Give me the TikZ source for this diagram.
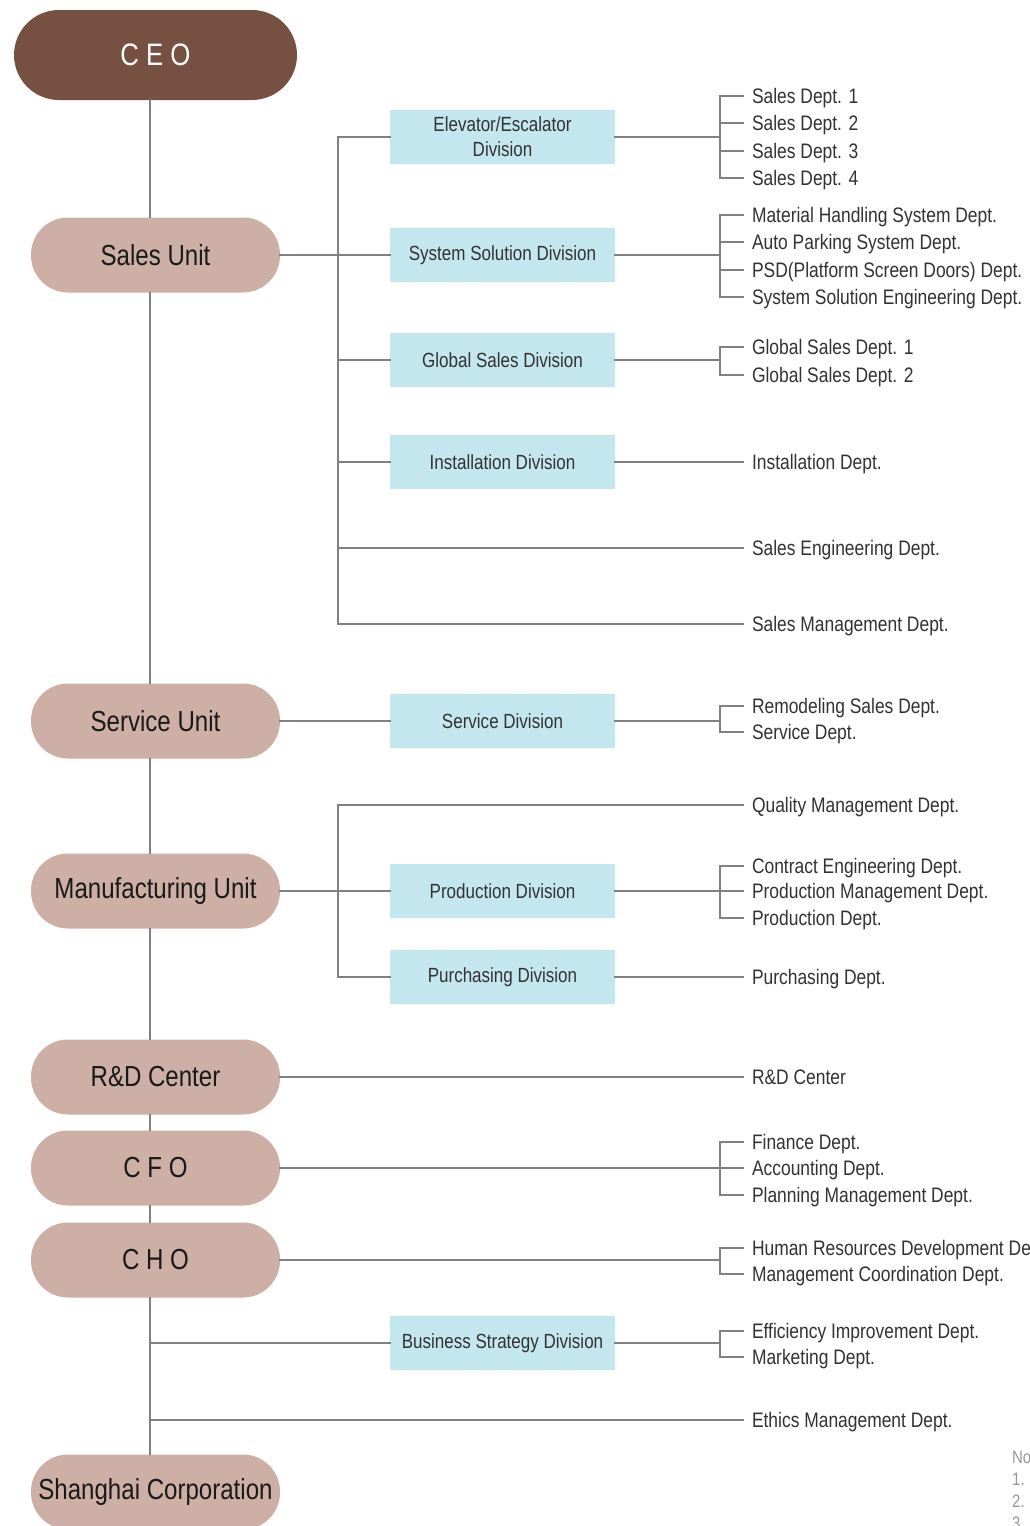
\documentclass[tikz,border=0pt]{standalone}
\usepackage{fontspec}
\setmainfont{Liberation Sans}[FakeStretch=0.83]
\usetikzlibrary{positioning}

\definecolor{ceobrown}{RGB}{118,81,66}
\definecolor{unitpink}{RGB}{205,175,165}
\definecolor{divblue}{RGB}{196,230,239}
\definecolor{linegrey}{RGB}{128,128,130}
\definecolor{depttext}{RGB}{50,50,50}
\definecolor{notegrey}{RGB}{150,150,150}

\tikzset{
    ceobox/.style={rectangle, rounded corners=45pt, fill=ceobrown, minimum width=283pt, minimum height=90pt, text=white, font=\fontsize{31}{36}\selectfont},
    unit/.style={rectangle, rounded corners=37pt, fill=unitpink, minimum width=249pt, minimum height=75pt, text=black!90, font=\fontsize{29}{33}\selectfont},
    division/.style={rectangle, fill=divblue, minimum width=225pt, minimum height=54pt, align=center, text=depttext, font=\fontsize{20.5}{25}\selectfont},
    dept/.style={anchor=west, inner xsep=9pt, inner ysep=0pt, outer sep=0pt, text depth=0pt, text=depttext, font=\fontsize{21}{25}\selectfont},
    line/.style={draw=linegrey, line width=2pt, line cap=rect}
}

\begin{document}
\begin{tikzpicture}[x=1pt, y=-1pt]
    \useasboundingbox (0,0) rectangle (1030,1526);

    % units on the left
    \node[name=ceo, ceobox] at (155.5,55) {C E O};
    \node[name=sales, unit] at (155.5,255) {Sales Unit};
    \node[name=service, unit] at (155.5,721) {Service Unit};
    \node[name=manu, unit] at (155.5,891) {Manufacturing Unit};
    \node[name=rnd, unit] at (155.5,1077) {R\&D Center};
    \node[name=cfo, unit] at (155.5,1168) {C F O};
    \node[name=cho, unit] at (155.5,1260) {C H O};
    \node[name=shanghai, unit] at (155.5,1492) {Shanghai Corporation};

    \coordinate (spine) at (150,0);
    \foreach \a/\b in {ceo/sales, sales/service, service/manu, manu/rnd, rnd/cfo, cfo/cho, cho/shanghai}
        \draw[line] (spine |- \a.south) -- (spine |- \b.north);

    % divisions
    \node[name=elev, division] at (502.5,137) {Elevator/Escalator\\Division};
    \node[name=syssol, division] at (502.5,255) {System Solution Division};
    \node[name=global, division] at (502.5,360) {Global Sales Division};
    \node[name=install, division] at (502.5,462) {Installation Division};
    \node[name=svcdiv, division] at (502.5,721) {Service Division};
    \node[name=prod, division] at (502.5,891) {Production Division};
    \node[name=purch, division] at (502.5,977) {Purchasing Division};
    \node[name=biz, division] at (502.5,1343) {Business Strategy Division};

    % departments
    \foreach \i/\y/\t in {1/96/Sales Dept. 1, 2/123/Sales Dept. 2, 3/151/Sales Dept. 3, 4/178/Sales Dept. 4}
        \node[name=elev\i, dept] at (743,\y) {\t};
    \foreach \i/\y/\t in {1/215/Material Handling System Dept., 2/242/Auto Parking System Dept., 3/270/PSD(Platform Screen Doors) Dept., 4/297/System Solution Engineering Dept.}
        \node[name=syssol\i, dept] at (743,\y) {\t};
    \foreach \i/\y/\t in {1/347/Global Sales Dept. 1, 2/375/Global Sales Dept. 2}
        \node[name=global\i, dept] at (743,\y) {\t};
    \node[name=installdept, dept] at (743,462) {Installation Dept.};
    \node[name=salesenge, dept] at (743,548) {Sales Engineering Dept.};
    \node[name=salesmgmt, dept] at (743,624) {Sales Management Dept.};
    \foreach \i/\y/\t in {1/706/Remodeling Sales Dept., 2/732/Service Dept.}
        \node[name=svcdiv\i, dept] at (743,\y) {\t};
    \node[name=quality, dept] at (743,805) {Quality Management Dept.};
    \foreach \i/\y/\t in {1/866/Contract Engineering Dept., 2/891/Production Management Dept., 3/918/Production Dept.}
        \node[name=prod\i, dept] at (743,\y) {\t};
    \node[name=purchdept, dept] at (743,977) {Purchasing Dept.};
    \node[name=rnddept, dept] at (743,1077) {R\&D Center};
    \foreach \i/\y/\t in {1/1142/Finance Dept., 2/1168/Accounting Dept., 3/1195/Planning Management Dept.}
        \node[name=cfo\i, dept] at (743,\y) {\t};
    \foreach \i/\y/\t in {1/1248/Human Resources Development Dept., 2/1274/Management Coordination Dept.}
        \node[name=cho\i, dept] at (743,\y) {\t};
    \foreach \i/\y/\t in {1/1331/Efficiency Improvement Dept., 2/1357/Marketing Dept.}
        \node[name=biz\i, dept] at (743,\y) {\t};
    \node[name=ethics, dept] at (743,1420) {Ethics Management Dept.};

    % sales unit
    \coordinate (salesBus) at (338,255);
    \draw[line] (sales) -- (syssol);
    \draw[line] (salesBus |- elev) -- (salesBus |- salesmgmt);
    \foreach \d in {elev, global, install, salesenge, salesmgmt}
        \draw[line] (salesBus |- \d) -- (\d);
    \draw[line] (install) -- (installdept);

    % brackets from a division (or unit) to its departments
    \foreach \g/\n in {elev/4, syssol/4, global/2, svcdiv/2, prod/3, cfo/3, cho/2, biz/2}
        {
            \coordinate (j\g) at (720,0);
            \draw[line] (\g) -- (j\g |- \g);
            \draw[line] (j\g |- \g1) -- (j\g |- \g\n);
            \foreach \i in {1,...,\n}
                \draw[line] (j\g |- \g\i) -- (\g\i);
        }

    % service unit
    \draw[line] (service) -- (svcdiv);

    % manufacturing unit
    \coordinate (manuBus) at (338,891);
    \draw[line] (manu) -- (prod);
    \draw[line] (manuBus |- quality) -- (manuBus |- purch);
    \draw[line] (manuBus |- quality) -- (quality);
    \draw[line] (manuBus |- purch) -- (purch);
    \draw[line] (purch) -- (purchdept);

    % r&d, cho branches off the spine
    \draw[line] (rnd) -- (rnddept);
    \draw[line] (spine |- biz) -- (biz);
    \draw[line] (spine |- ethics) -- (ethics);

    % note, cut at the page edge
    \node[name=note, anchor=north west, align=left, inner sep=0pt, text=notegrey, font=\fontsize{18}{22}\selectfont] at (1012,1451) {Note\\1.\\2.\\3.};
\end{tikzpicture}
\end{document}
